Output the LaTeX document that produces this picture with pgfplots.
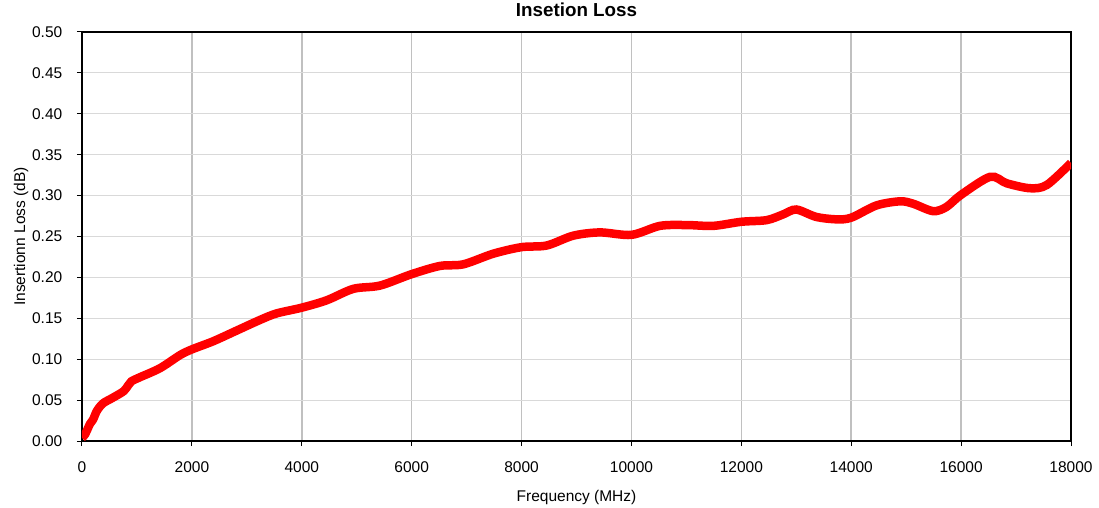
\documentclass[border=0pt]{standalone}
\usepackage{fontspec}
\setmainfont{Liberation Sans}
\usepackage{pgfplots}
\pgfplotsset{compat=1.18}

\definecolor{vgrid}{RGB}{192,192,192}
\definecolor{hgrid}{RGB}{217,217,217}

\begin{document}
\begin{tikzpicture}[font=\fontsize{15.5}{18}\selectfont]
\path[use as bounding box] (-82pt,-67pt) rectangle (1017pt,441pt);
\begin{axis}[
    scale only axis,
    width=989pt, height=409pt,
    xmin=0, xmax=18000,
    ymin=0, ymax=0.5,
    xtick={0,2000,...,18000},
    ytick={0,0.05,...,0.5},
    scaled x ticks=false, scaled y ticks=false,
    /pgf/number format/assume math mode=true,
    tick label style={font=\fontsize{15.5}{18}\selectfont},
    label style={font=\fontsize{17.3}{20}\selectfont},
    xticklabel style={/pgf/number format/1000 sep={}, anchor=base, inner sep=0pt, yshift=-26.7pt},
    yticklabel style={/pgf/number format/fixed, /pgf/number format/fixed zerofill,
        /pgf/number format/precision=2, anchor=east, inner sep=0pt, xshift=-14.5pt},
    tick align=outside,
    xtick pos=bottom, ytick pos=left,
    major tick length=5pt,
    tick style={black, line width=1pt},
    axis line style={black, line width=1.6pt},
    xmajorgrids, ymajorgrids,
    x grid style={vgrid, line width=1.6pt},
    y grid style={hgrid, line width=1pt},
    title={\bfseries Insetion Loss},
    title style={at={(axis description cs:0.5,1)}, anchor=base, yshift=9.5pt, font=\fontsize{18.8}{22}\selectfont},
    xlabel={Frequency (MHz)},
    every axis x label/.style={at={(axis description cs:0.5,0)}, anchor=base, yshift=-60pt},
    ylabel={Insertionn Loss (dB)},
    every axis y label/.style={at={(axis description cs:-0.0576,0.5)}, anchor=base, rotate=90},
]
\addplot[red, line width=8.5pt, smooth, tension=0.5] coordinates {
    (0,0.004) (55,0.008) (146,0.021) (200,0.026) (273,0.037) (382,0.046)
    (564,0.053) (760,0.061) (840,0.068) (900,0.073) (1056,0.078) (1420,0.089)
    (1784,0.105) (2000,0.112) (2390,0.122) (2815,0.135) (3240,0.148)
    (3543,0.156) (4000,0.163) (4453,0.172) (4938,0.186) (5423,0.190)
    (6000,0.204) (6515,0.214) (6940,0.216) (7486,0.229) (8000,0.237)
    (8458,0.239) (8940,0.251) (9428,0.255) (10000,0.252) (10520,0.263)
    (11006,0.264) (11490,0.263) (12000,0.268) (12460,0.270) (12760,0.277)
    (13000,0.283) (13360,0.274) (13730,0.271) (14000,0.273) (14460,0.288)
    (14890,0.293) (15130,0.290) (15490,0.281) (15730,0.286) (16000,0.301)
    (16530,0.323) (16830,0.315) (17255,0.309) (17560,0.313) (18000,0.340)
};
\end{axis}
\end{tikzpicture}
\end{document}
